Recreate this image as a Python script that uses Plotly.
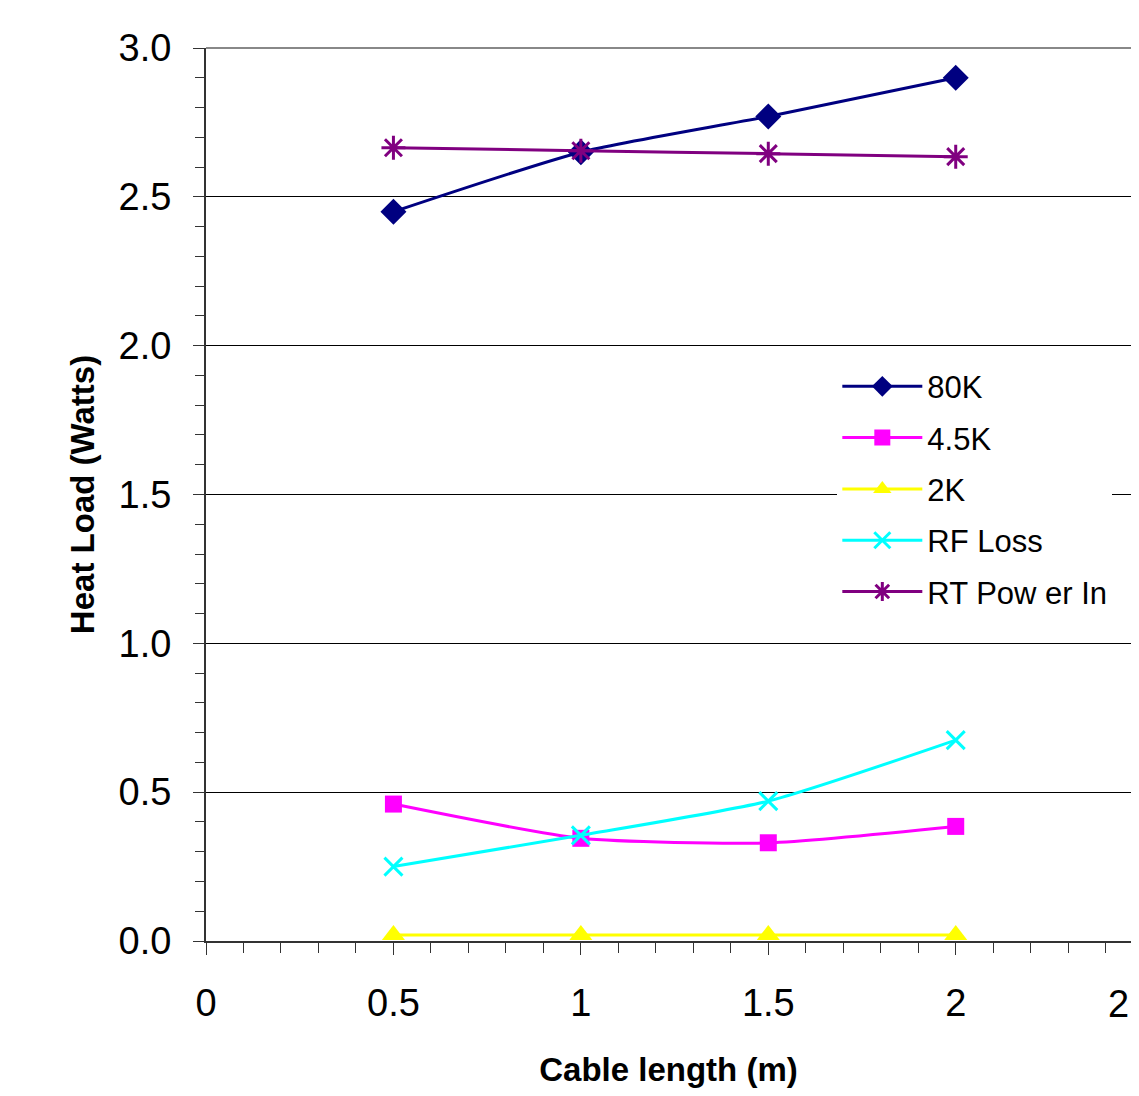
import plotly.graph_objects as go

cable_length = [0.5, 1.0, 1.5, 2.0]
load_80k = [2.45, 2.65, 2.77, 2.90]
load_4_5k = [0.46, 0.345, 0.33, 0.385]
load_2k = [0.02, 0.02, 0.02, 0.02]
rf_loss = [0.25, 0.355, 0.47, 0.675]
rt_power_in = [2.665, 2.655, 2.645, 2.635]

x_tickvals = [0, 0.5, 1, 1.5, 2]
x_ticktext = ["0", "0.5", "1", "1.5", "2"]
y_tickvals = [0.0, 0.5, 1.0, 1.5, 2.0, 2.5, 3.0]

series = [
    ("80K", load_80k, "#000080", "diamond", 20, 0),
    ("4.5K", load_4_5k, "#FF00FF", "square", 17, 0),
    ("2K", load_2k, "#FFFF00", "triangle-up", 20, 0),
    ("RF Loss", rf_loss, "#00FFFF", "x-thin-open", 18, 3),
    ("RT Pow er In", rt_power_in, "#800080", "asterisk-open", 20, 3),
]

fig = go.Figure()
for name, vals, color, sym, size, mlw in series:
    marker = dict(symbol=sym, size=size, color=color)
    if mlw:
        marker["line"] = dict(color=color, width=mlw)
    fig.add_trace(go.Scatter(
        x=cable_length, y=vals, name=name, legendgroup=name, mode="lines+markers",
        line=dict(color=color, width=3, shape="spline", smoothing=0.6),
        marker=marker, cliponaxis=False,
    ))

font_family = "Liberation Sans, Arial, sans-serif"
fig.update_layout(
    width=1123, height=1080,
    margin=dict(l=198, r=0, t=40, b=147),
    plot_bgcolor="white", paper_bgcolor="white",
    font=dict(family=font_family, color="black"),
    showlegend=True,
    legend=dict(
        x=0.6825, y=0.651, xanchor="left", yanchor="top",
        bgcolor="white", borderwidth=0,
        font=dict(size=31, family=font_family, color="black"),
        itemwidth=80, tracegroupgap=8, traceorder="grouped",
    ),
    xaxis=dict(
        range=[0, 2.4676], tickvals=x_tickvals, ticktext=x_ticktext,
        showgrid=False, zeroline=False,
        showline=True, linecolor="#333333", linewidth=2,
        ticks="outside", ticklen=12, tickcolor="#333333", tickwidth=1,
        minor=dict(dtick=0.1, ticks="outside", ticklen=10, tickcolor="#333333", tickwidth=1),
        tickfont=dict(size=38, family=font_family, color="black"),
        ticklabelstandoff=15,
        title=dict(text="<b>Cable length (m)</b>", font=dict(size=33, family=font_family, color="black"), standoff=37),
    ),
    yaxis=dict(
        range=[0, 3.0], tickvals=y_tickvals, tickformat=".1f",
        showgrid=True, gridcolor="black", gridwidth=1,
        zeroline=False,
        showline=True, linecolor="#333333", linewidth=2,
        ticks="outside", ticklen=11, tickcolor="#333333", tickwidth=1,
        minor=dict(dtick=0.1, ticks="outside", ticklen=9, tickcolor="#333333", tickwidth=1, showgrid=False),
        tickfont=dict(size=38, family=font_family, color="black"),
        ticklabelstandoff=14,
        title=dict(text="<b>Heat Load (Watts)</b>", font=dict(size=33, family=font_family, color="black"), standoff=14),
    ),
)
fig.add_shape(type="line", xref="paper", yref="paper", x0=0, x1=1, y0=1, y1=1,
              line=dict(color="#888888", width=2))
fig.add_annotation(
    x=1, y=0, xref="paper", yref="paper", yshift=-40, yanchor="top",
    text="2", showarrow=False, xanchor="right",
    font=dict(size=38, family=font_family, color="black"),
)
fig.write_html("out.html")
